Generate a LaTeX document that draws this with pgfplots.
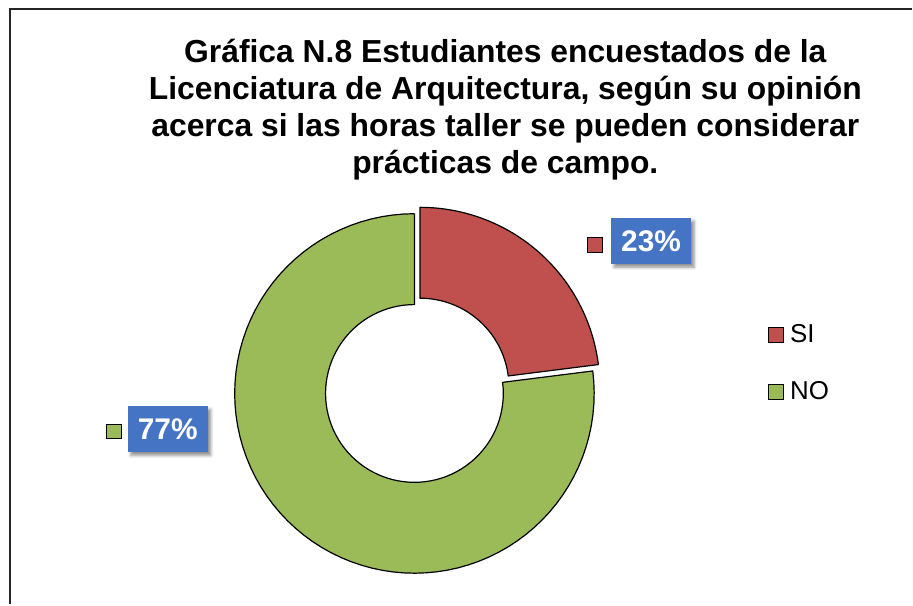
\documentclass[border=0pt]{standalone}
\usepackage{pgfplots}
\pgfplotsset{compat=1.18}
\usepackage{pgfplotstable}
\usepackage{fontspec}
\setmainfont{Liberation Sans}
\usetikzlibrary{shadows.blur}
\definecolor{sired}{RGB}{192,80,77}
\definecolor{nogreen}{RGB}{155,187,89}
\definecolor{lblblue}{RGB}{70,116,196}

\pgfplotstableread{
label value
SI 23
NO 77
}\donutdata

\begin{document}
\begin{tikzpicture}
\pgfplotstablegetelem{0}{value}\of\donutdata \let\vSI\pgfplotsretval
\pgfplotstablegetelem{1}{value}\of\donutdata \let\vNO\pgfplotsretval
\pgfmathsetmacro\total{\vSI+\vNO}
\pgfmathsetmacro\aSIstart{90-(\vSI/\total)*360}
\pgfmathsetmacro\aSIend{90}
\pgfmathsetmacro\aNOstart{90}
\pgfmathsetmacro\aNOend{90+(\vNO/\total)*360}
\pgfmathsetmacro\midSI{(\aSIstart+\aSIend)/2}
\pgfmathsetmacro\dxSI{8.5*cos(\midSI)}
\pgfmathsetmacro\dySI{8.5*sin(\midSI)}
\begin{axis}[
  x=1bp, y=1bp, xmin=0, xmax=913, ymin=0, ymax=605,
  hide axis, clip=false,
  declare function={
    ringa(\tv,\angA,\angB)=ifthenelse(\tv<=80, \angA+(\angB-\angA)*\tv/80, ifthenelse(\tv>=162, \angA, \angB-(\angB-\angA)*(\tv-81)/80));
    ringr(\tv)=ifthenelse(\tv>80, ifthenelse(\tv<162, 89, 180), 180);
  },
]
\path (axis cs:0,0) rectangle (axis cs:913,605);
% donut slices from the table values
\addplot[fill=nogreen, draw=black, line width=1.2bp, line join=round, samples at={0,1,...,162}, variable=\t]
  ({415+ringr(\t)*cos(ringa(\t,\aNOstart,\aNOend))}, {211+ringr(\t)*sin(ringa(\t,\aNOstart,\aNOend))});
\addplot[fill=sired, draw=black, line width=1.2bp, line join=round, samples at={0,1,...,162}, variable=\t]
  ({415+\dxSI+ringr(\t)*cos(ringa(\t,\aSIstart,\aSIend))}, {211+\dySI+ringr(\t)*sin(ringa(\t,\aSIstart,\aSIend))});
% title
\node[anchor=base, font=\fontsize{32}{38}\selectfont\bfseries] at (axis cs:506,542) {Gráfica N.8 Estudiantes encuestados de la};
\node[anchor=base, font=\fontsize{32}{38}\selectfont\bfseries] at (axis cs:506,505) {Licenciatura de Arquitectura, según su opinión};
\node[anchor=base, font=\fontsize{32}{38}\selectfont\bfseries] at (axis cs:506,468) {acerca si las horas taller se pueden considerar};
\node[anchor=base, font=\fontsize{32}{38}\selectfont\bfseries] at (axis cs:506,431) {prácticas de campo.};
% data labels
\node[fill=lblblue, text=white, font=\fontsize{30}{36}\selectfont\bfseries, minimum width=80bp, minimum height=46bp, inner sep=0pt,
  blur shadow={shadow xshift=3bp, shadow yshift=-3bp, shadow blur radius=3bp, shadow opacity=45}] at (axis cs:652,363.5) {23\%};
\node[fill=lblblue, text=white, font=\fontsize{30}{36}\selectfont\bfseries, minimum width=80bp, minimum height=46bp, inner sep=0pt,
  blur shadow={shadow xshift=3bp, shadow yshift=-3bp, shadow blur radius=3bp, shadow opacity=45}] at (axis cs:168,175) {77\%};
\node[draw=black, fill=sired, minimum size=15bp, inner sep=0pt, line width=0.8bp] at (axis cs:596,360) {};
\node[draw=black, fill=nogreen, minimum size=15bp, inner sep=0pt, line width=0.8bp] at (axis cs:114,173) {};
% legend
\node[draw=black, fill=sired, minimum size=15bp, inner sep=0pt, line width=0.6bp] at (axis cs:777,270) {};
\node[draw=black, fill=nogreen, minimum size=15bp, inner sep=0pt, line width=0.6bp] at (axis cs:777,212.5) {};
\node[anchor=base west, inner sep=0pt, font=\fontsize{26}{31}\selectfont] at (axis cs:791,262) {SI};
\node[anchor=base west, inner sep=0pt, font=\fontsize{26}{31}\selectfont] at (axis cs:791,205) {NO};
% frame
\draw[line width=2.5bp, black!85] (axis cs:10,0) -- (axis cs:10,596) -- (axis cs:913,596);
\end{axis}
\end{tikzpicture}
\end{document}
